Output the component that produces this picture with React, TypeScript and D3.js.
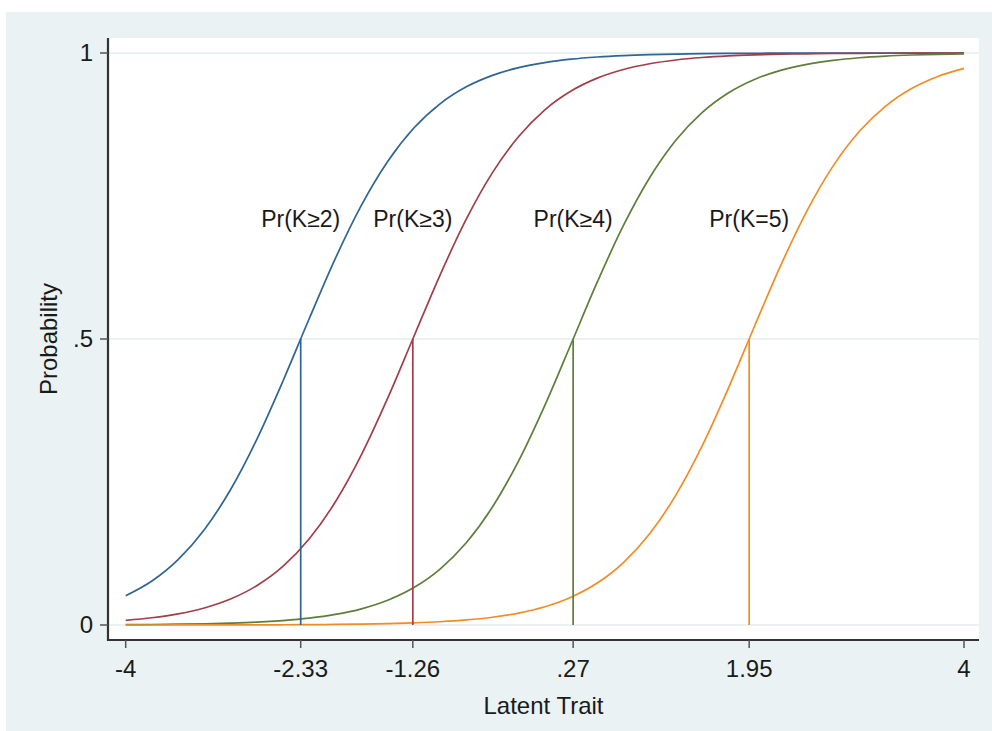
import React from "react";
import * as d3 from "d3";

const theta = [-4, -3.75, -3.5, -3.25, -3, -2.75, -2.5, -2.25, -2, -1.75, -1.5, -1.25, -1, -0.75, -0.5, -0.25, 0, 0.25, 0.5, 0.75, 1, 1.25, 1.5, 1.75, 2, 2.25, 2.5, 2.75, 3, 3.25, 3.5, 3.75, 4];

const prK2 = [0.0511, 0.0769, 0.1143, 0.1666, 0.2364, 0.3241, 0.4262, 0.5349, 0.6405, 0.734, 0.8104, 0.8688, 0.9111, 0.9408, 0.9609, 0.9744, 0.9833, 0.9892, 0.993, 0.9955, 0.9971, 0.9981, 0.9988, 0.9992, 0.9995, 0.9997, 0.9998, 0.9999, 0.9999, 0.9999, 1.0, 1.0, 1.0];
const prK3 = [0.0082, 0.0127, 0.0195, 0.0298, 0.0454, 0.0687, 0.1025, 0.1503, 0.215, 0.2979, 0.3965, 0.5044, 0.6118, 0.7094, 0.7908, 0.8541, 0.9007, 0.9335, 0.9561, 0.9712, 0.9812, 0.9878, 0.9921, 0.9949, 0.9967, 0.9979, 0.9986, 0.9991, 0.9994, 0.9996, 0.9998, 0.9998, 0.9999];
const prK4 = [0.0006, 0.0009, 0.0014, 0.0021, 0.0033, 0.005, 0.0078, 0.012, 0.0185, 0.0283, 0.0432, 0.0654, 0.0978, 0.1437, 0.2063, 0.287, 0.384, 0.4913, 0.5993, 0.6985, 0.782, 0.8475, 0.8959, 0.9302, 0.9538, 0.9697, 0.9802, 0.9871, 0.9917, 0.9946, 0.9965, 0.9977, 0.9985];
const prK5 = [0.0, 0.0, 0.0001, 0.0001, 0.0002, 0.0003, 0.0004, 0.0006, 0.001, 0.0015, 0.0024, 0.0037, 0.0057, 0.0088, 0.0136, 0.0208, 0.0319, 0.0486, 0.0733, 0.1091, 0.1594, 0.2271, 0.3127, 0.4134, 0.5219, 0.6283, 0.7236, 0.8022, 0.8627, 0.9068, 0.9378, 0.9589, 0.9731];

const seriesNames = ["Pr(K≥2)", "Pr(K≥3)", "Pr(K≥4)", "Pr(K=5)"];
const seriesValues = [prK2, prK3, prK4, prK5];
const thresholds = [-2.33, -1.26, 0.27, 1.95];
const labelLevel = 0.7;

const xTicks = [-4, -2.33, -1.26, 0.27, 1.95, 4];
const xTickLabels = ["-4", "-2.33", "-1.26", ".27", "1.95", "4"];
const yTicks = [0, 0.5, 1];
const yTickLabels = ["0", ".5", "1"];

const colors = ["#2f6592", "#a03f4a", "#5d7f3a", "#f08d26"];

const W = 992;
const H = 731;
const plotLeft = 108;
const plotRight = 979;
const plotTop = 38;
const plotBottom = 640;
const FONT = "'Liberation Sans', Arial, Helvetica, sans-serif";
const FS = 23;
const FS_AX = 24;

export default function App() {
  const x = d3.scaleLinear().domain([-4, 4]).range([125.7, 964]);
  const y = d3.scaleLinear().domain([0, 1]).range([625, 53]);
  const line = d3
    .line<[number, number]>()
    .x((d) => x(d[0]))
    .y((d) => y(d[1]))
    .curve(d3.curveMonotoneX);

  return (
    <svg
      width={W}
      height={H}
      viewBox={`0 0 ${W} ${H}`}
      style={{ position: "absolute", left: 0, top: 0, display: "block" }}
    >
      <rect x={0} y={0} width={W} height={H} fill="#ffffff" />
      <rect x={6} y={12} width={W - 6} height={H - 12} fill="#eaf2f3" />
      <rect
        x={plotLeft}
        y={plotTop}
        width={plotRight - plotLeft}
        height={plotBottom - plotTop}
        fill="#ffffff"
      />
      {yTicks.map((t) => (
        <line
          key={"g" + t}
          x1={plotLeft}
          x2={plotRight}
          y1={y(t)}
          y2={y(t)}
          stroke="#eaf2f3"
          strokeWidth={2}
        />
      ))}
      {seriesValues.map((vals, i) => (
        <path
          key={"s" + i}
          d={line(theta.map((t, j) => [t, vals[j]] as [number, number])) || ""}
          fill="none"
          stroke={colors[i]}
          strokeWidth={1.7}
        />
      ))}
      {thresholds.map((b, i) => (
        <line
          key={"v" + i}
          x1={x(b)}
          x2={x(b)}
          y1={y(0.5)}
          y2={y(0)}
          stroke={colors[i]}
          strokeWidth={1.7}
        />
      ))}
      {thresholds.map((b, i) => (
        <text
          key={"l" + i}
          x={x(b)}
          y={y(labelLevel)}
          dy={2}
          textAnchor="middle"
          fontFamily={FONT}
          fontSize={FS}
          fill="#1a1a1a"
        >
          {seriesNames[i]}
        </text>
      ))}
      <line x1={plotLeft} x2={plotLeft} y1={plotTop} y2={plotBottom + 1} stroke="#333" strokeWidth={2.2} />
      <line x1={plotLeft - 1} x2={plotRight} y1={plotBottom} y2={plotBottom} stroke="#333" strokeWidth={2.2} />
      {yTicks.map((t, i) => (
        <g key={"yt" + i}>
          <line x1={plotLeft - 8} x2={plotLeft} y1={y(t)} y2={y(t)} stroke="#555" strokeWidth={1.5} />
          <text
            x={93}
            y={y(t)}
            dy="0.35em"
            textAnchor="end"
            fontFamily={FONT}
            fontSize={FS_AX}
            fill="#1a1a1a"
          >
            {yTickLabels[i]}
          </text>
        </g>
      ))}
      {xTicks.map((t, i) => (
        <g key={"xt" + i}>
          <line x1={x(t)} x2={x(t)} y1={plotBottom} y2={plotBottom + 8} stroke="#555" strokeWidth={1.5} />
          <text
            x={x(t)}
            y={677}
            textAnchor="middle"
            fontFamily={FONT}
            fontSize={FS_AX}
            fill="#1a1a1a"
          >
            {xTickLabels[i]}
          </text>
        </g>
      ))}
      <text
        x={(plotLeft + plotRight) / 2}
        y={714}
        textAnchor="middle"
        fontFamily={FONT}
        fontSize={FS_AX}
        fill="#1a1a1a"
      >
        Latent Trait
      </text>
      <text
        transform={`translate(57, ${y(0.5)}) rotate(-90)`}
        textAnchor="middle"
        fontFamily={FONT}
        fontSize={FS_AX}
        fill="#1a1a1a"
      >
        Probability
      </text>
    </svg>
  );
}
